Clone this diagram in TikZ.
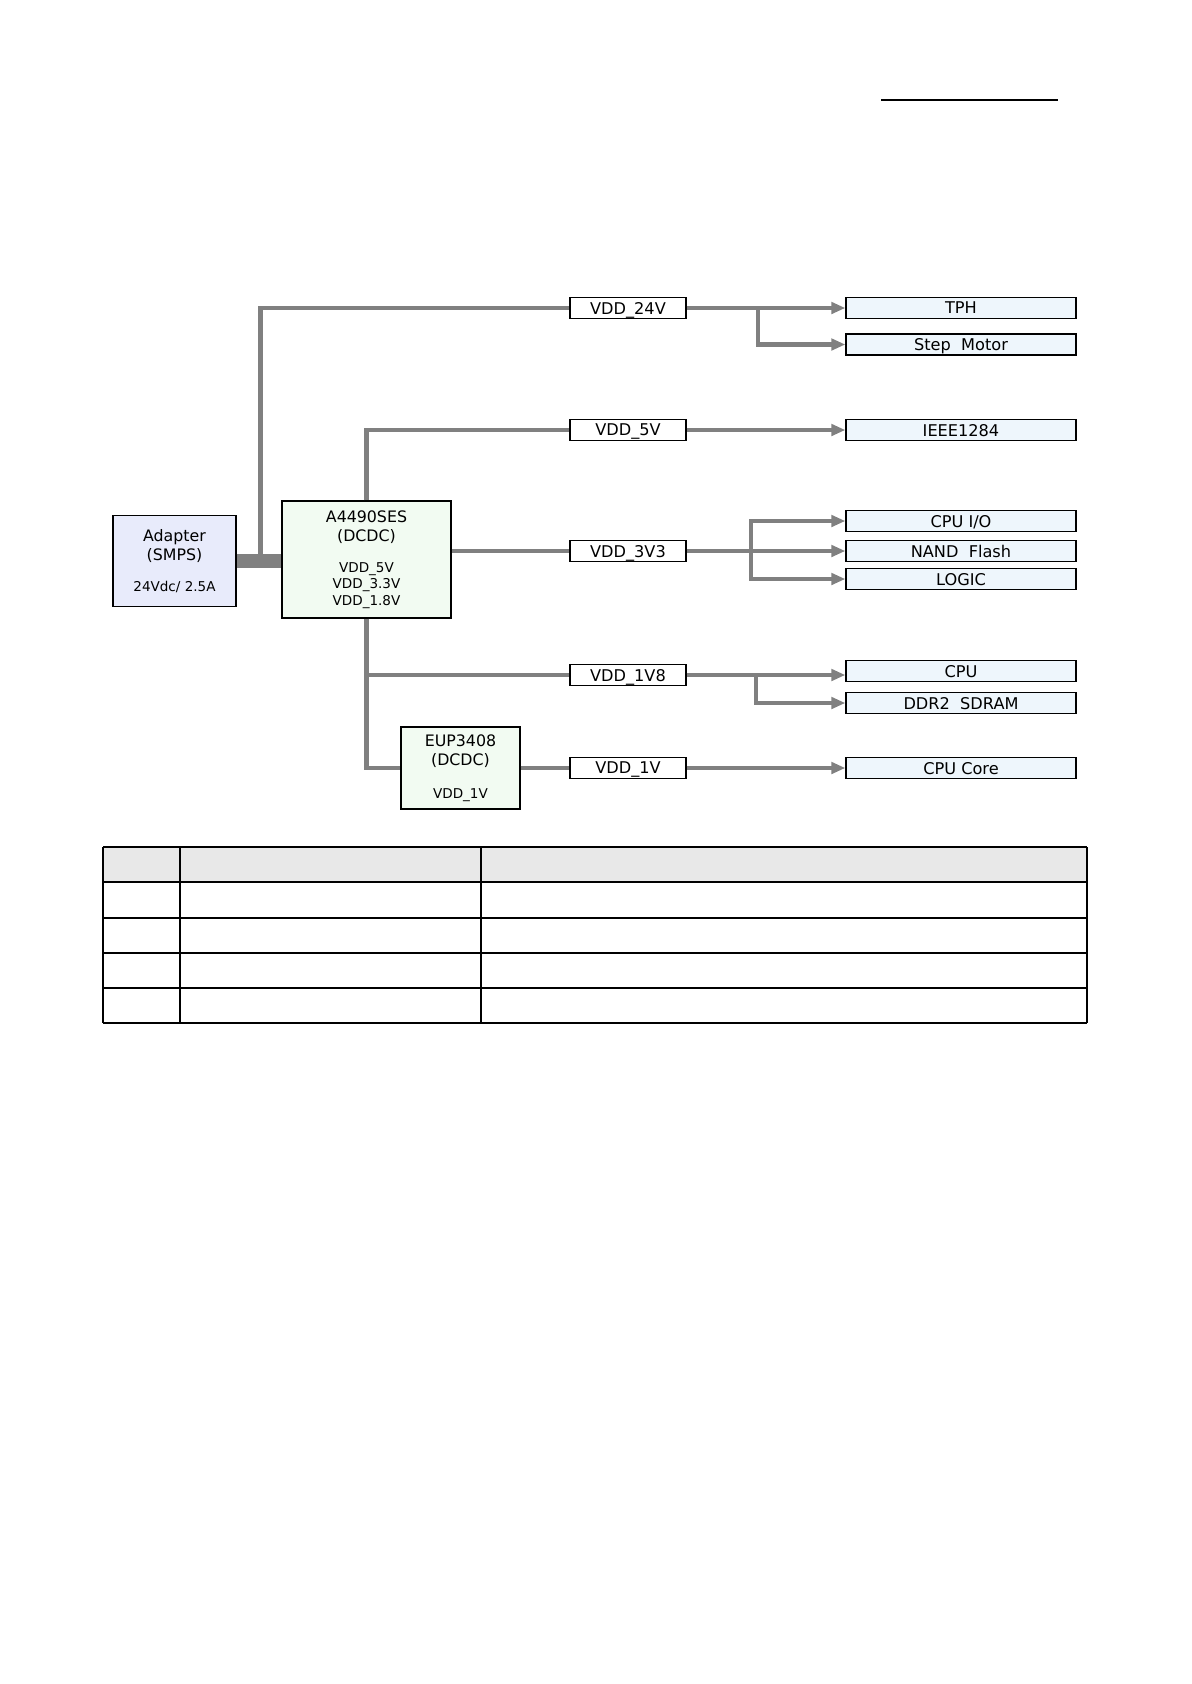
\documentclass[tikz,border=0pt]{standalone}
\usepackage{fontspec}
\setmainfont{DejaVu Sans}
\usetikzlibrary{arrows.meta,positioning}

\definecolor{adapterblue}{HTML}{E8EBFB}
\definecolor{chipgreen}{HTML}{F2FBF2}
\definecolor{loadblue}{HTML}{EEF6FC}
\definecolor{headgray}{HTML}{E8E8E8}

\tikzset{
  feed/.style={draw=gray, line width=2.6pt},
  bus/.style={draw=gray, line width=8.5pt},
  tip/.style={feed, -{Triangle[length=8pt,width=6.5pt]}},
  railbox/.style={draw, line width=0.75pt, fill=white, inner sep=0pt,
    minimum width=2.32cm, minimum height=0.42cm, text depth=0pt,
    font=\fontsize{9.2}{10}\selectfont},
  loadbox/.style={railbox, fill=loadblue, minimum width=4.6cm},
  chipbox/.style={draw, line width=0.75pt, fill=chipgreen, inner sep=0pt,
    align=center, font=\fontsize{9}{10.8}\selectfont},
}
\newcommand{\smalltext}{\fontsize{7.7}{8.8}\selectfont}

\begin{document}
\begin{tikzpicture}[x=0.02cm, y=-0.02cm]
        \useasboundingbox (0,0) rectangle (1191,1684);

        % --- header rule ---
        \draw[line width=1.7pt] (881,100) -- (1058,100);

        % --- sources ---
        \node[chipbox, fill=adapterblue, minimum width=2.46cm, minimum height=1.82cm]
            (adapter) at (174.5,561) {Adapter\\(SMPS)\\[7pt]\smalltext 24Vdc/ 2.5A};
        \node[chipbox, minimum width=3.38cm, minimum height=2.34cm]
            (a4490) at (366.5,559.5) {A4490SES\\(DCDC)\\[7pt]\smalltext VDD\_5V\\[-1.6pt]\smalltext VDD\_3.3V\\[-1.6pt]\smalltext VDD\_1.8V};
        \node[chipbox, minimum width=2.38cm, minimum height=1.64cm]
            (eup) at (460.5,768) {EUP3408\\(DCDC)\\[8pt]\smalltext VDD\_1V};

        % --- rails ---
        \node[railbox] (v24)  at (628,308)   {VDD\_24V};
        \node[railbox] (v5)   at (628,430)   {VDD\_5V};
        \node[railbox] (v3v3) at (628,551)   {VDD\_3V3};
        \node[railbox] (v1v8) at (628,675)   {VDD\_1V8};
        \node[railbox] (v1)   at (628,768)   {VDD\_1V};

        % --- loads ---
        \node[loadbox] (tph)     at (961,308)   {TPH};
        \node[loadbox] (step)    at (961,344.5) {Step\ \ Motor};
        \node[loadbox] (ieee)    at (961,430)   {IEEE1284};
        \node[loadbox] (cpuio)   at (961,521)   {CPU\ I/O};
        \node[loadbox] (nand)    at (961,551)   {NAND\ \ Flash};
        \node[loadbox] (logic)   at (961,579)   {LOGIC};
        \node[loadbox] (cpu)     at (961,671)   {CPU};
        \node[loadbox] (ddr)     at (961,703)   {DDR2\ \ SDRAM};
        \node[loadbox] (cpucore) at (961,768)   {CPU\ Core};

        % --- input side ---
        \draw[bus] (adapter.east) -- (adapter.east -| a4490.west);
        \coordinate (tap24) at (260.5,560);
        \draw[feed] (tap24) |- (v24.west);
        \draw[feed] (a4490.north) |- (v5.west);
        \draw[feed] (a4490.east |- v3v3) -- (v3v3.west);
        \draw[feed] (a4490.south) |- (eup.west);
        \draw[feed] (a4490.south |- v1v8) -- (v1v8.west);
        \draw[feed] (eup.east) -- (v1.west);

        % --- output side ---
        \coordinate (j24) at (758,308);
        \coordinate (j33) at (751,551);
        \coordinate (j18) at (756,675);
        \draw[tip] (v24.east) -- (tph.west);
        \draw[tip] (j24) |- (step.west);
        \draw[tip] (v5.east) -- (ieee.west);
        \draw[tip] (v3v3.east) -- (nand.west);
        \draw[tip] (j33) |- (cpuio.west);
        \draw[tip] (j33) |- (logic.west);
        \draw[tip] (v1v8.east) -- (v1v8.east -| cpu.west);
        \draw[tip] (j18) |- (ddr.west);
        \draw[tip] (v1.east) -- (cpucore.west);

        % --- empty table ---
        \fill[headgray] (103,847) rectangle (1087,882);
        \foreach \y in {847,882,918,953,988,1023}
            \draw[line width=0.75pt] (103,\y) -- (1087,\y);
        \foreach \x in {103,180,481,1087}
            \draw[line width=0.75pt] (\x,847) -- (\x,1023);
    \end{tikzpicture}
\end{document}
